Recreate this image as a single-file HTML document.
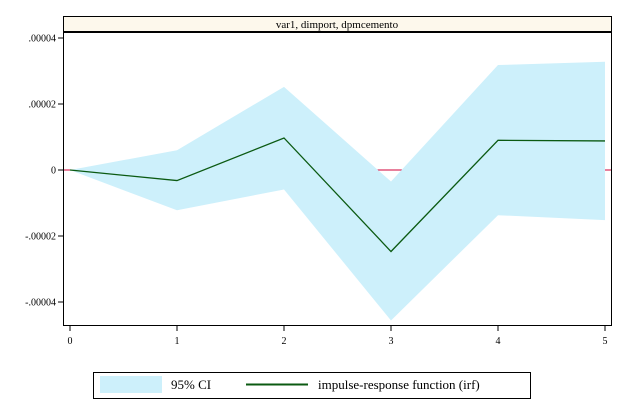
<!DOCTYPE html>
<html><head><meta charset="utf-8"><style>
body{margin:0;background:#fff;width:631px;height:411px;overflow:hidden;font-family:"Liberation Serif",serif;}
</style></head><body>
<svg width="631" height="411" xmlns="http://www.w3.org/2000/svg">
<g id="plot"></g>
</svg>
<script>
const steps = [0, 1, 2, 3, 4, 5];
const irfValues = [0, -3.2, 9.7, -24.7, 9.0, 8.8];
const ciUpper = [0, 6.0, 25.2, -3.5, 31.8, 32.8];
const ciLower = [0, -12.2, -5.9, -45.6, -13.7, -15.2];
const yTicks = [40, 20, 0, -20, -40];
const yTickLabels = [".00004", ".00002", "0", "-.00002", "-.00004"];
const xTickLabels = ["0", "1", "2", "3", "4", "5"];

const NS = "http://www.w3.org/2000/svg";
const g = document.getElementById('plot');
const X0 = 70, XS = 107, Y0 = 170, YS = 3.3;
const xs = v => X0 + v * XS;
const ys = v => Y0 - v * YS;
function mk(tag, attrs, parent) {
  const e = document.createElementNS(NS, tag);
  for (const k in attrs) e.setAttribute(k, attrs[k]);
  (parent || g).appendChild(e);
  return e;
}
// title box
let e = mk('rect', {x: 63.5, y: 16.5, width: 548, height: 16, fill: '#fdf8ec', stroke: '#000'});


e = mk('text', {x: 337, y: 28, 'text-anchor': 'middle', 'font-size': 11});
e.textContent = 'var1, dimport, dpmcemento';


// zero line
e = mk('line', {x1: 63, x2: 611, y1: ys(0), y2: ys(0), stroke: '#d0003a', 'stroke-width': 1});


// CI band
let pts = steps.map((s, i) => xs(s) + ',' + ys(ciUpper[i]));
for (let i = steps.length - 1; i >= 0; i--) pts.push(xs(steps[i]) + ',' + ys(ciLower[i]));
e = mk('polygon', {points: pts.join(' '), fill: '#cdf0fb'});


// irf line
e = mk('polyline', {points: steps.map((s, i) => xs(s) + ',' + ys(irfValues[i])).join(' '), fill: 'none', stroke: '#0b5a12', 'stroke-width': 1.3});


// frame
e = mk('path', {d: 'M63.5,32.5 V325.5 H611.5 V32.5', fill: 'none', stroke: '#000', 'stroke-width': 1});


e = mk('line', {x1: 63, x2: 612, y1: 32, y2: 32, stroke: '#000', 'stroke-width': 2});


// y ticks
yTicks.forEach((t, i) => {
  const y = ys(t);
  let l = mk('line', {x1: 58, x2: 63, y1: y, y2: y, stroke: '#000'});
  
  
  let tx = mk('text', {x: 56, y: y + 3.5, 'text-anchor': 'end', 'font-size': 10});
  tx.textContent = yTickLabels[i];
  
  
});
// x ticks
steps.forEach((s, i) => {
  const x = xs(s);
  let l = mk('line', {x1: x, x2: x, y1: 326, y2: 331, stroke: '#000'});
  
  
  let tx = mk('text', {x: x, y: 344, 'text-anchor': 'middle', 'font-size': 10});
  tx.textContent = xTickLabels[i];
  
  
});
// legend
const lg = mk('g', {});


mk('rect', {x: 93.5, y: 372.5, width: 437, height: 26, fill: '#fff', stroke: '#000'}, lg);
e = mk('rect', {x: 100, y: 376, width: 62, height: 17, fill: '#cdf0fb'}, lg);


e = mk('text', {x: 171, y: 389, 'font-size': 13}, lg);
e.textContent = '95% CI';


e = mk('line', {x1: 246, x2: 308, y1: 384.5, y2: 384.5, stroke: '#0b5a12', 'stroke-width': 2}, lg);


e = mk('text', {x: 318, y: 389, 'font-size': 13}, lg);
e.textContent = 'impulse-response function (irf)';


</script>
</body></html>
